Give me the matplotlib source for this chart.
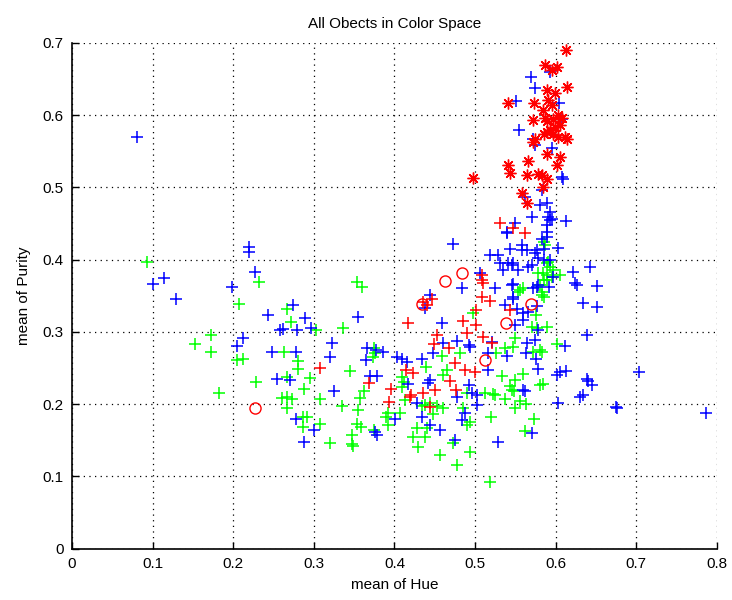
"""
plot.py
scatter of all objects in (hue, purity) color space
"""

import matplotlib
matplotlib.use('Agg')
import matplotlib.pyplot as plt

## data : mean of hue / mean of purity per object group
BLUE_HUE = [0.081, 0.220, 0.220, 0.100, 0.1145, 0.129, 0.1985, 0.2267, 0.205, 0.212,
            0.2746, 0.2436, 0.289, 0.3545, 0.258, 0.262, 0.2795, 0.296, 0.2477, 0.278,
            0.323, 0.320, 0.3656, 0.377, 0.3644, 0.370, 0.378, 0.254, 0.270, 0.325,
            0.2775, 0.300, 0.288, 0.376, 0.378, 0.386, 0.4008, 0.403, 0.409, 0.415,
            0.417, 0.434, 0.4587, 0.46, 0.477, 0.4938, 0.493, 0.5165, 0.4483, 0.5165,
            0.444, 0.442, 0.493, 0.477, 0.496, 0.502, 0.502, 0.4277, 0.434, 0.444,
            0.4566, 0.4835, 0.4876, 0.4752, 0.529, 0.537, 0.5517, 0.560, 0.566, 0.5765,
            0.634, 0.651, 0.56, 0.5496, 0.5786, 0.6394, 0.5207, 0.564, 0.5744, 0.6117,
            0.5393, 0.5633, 0.5757, 0.5786, 0.601, 0.6055, 0.613, 0.6386, 0.6448, 0.630,
            0.6336, 0.675, 0.6766, 0.6034, 0.559, 0.562, 0.5703, 0.4723, 0.540, 0.5827,
            0.589, 0.6034, 0.5186, 0.529, 0.5744, 0.531, 0.5413, 0.5475, 0.535, 0.5537,
            0.566, 0.597, 0.622, 0.624, 0.4835, 0.506, 0.5248, 0.5467, 0.5724, 0.5786,
            0.5467, 0.444, 0.438, 0.6096, 0.5827, 0.562, 0.5806, 0.589, 0.593, 0.591,
            0.5955, 0.593, 0.5703, 0.613, 0.5496, 0.5393, 0.589, 0.589, 0.5434, 0.558,
            0.558, 0.564, 0.5765, 0.585, 0.5455, 0.5703, 0.5786, 0.585, 0.593, 0.626,
            0.651, 0.642, 0.592, 0.5765, 0.5455, 0.5475, 0.7035, 0.7866, 0.6406, 0.569,
            0.5744, 0.551, 0.6046, 0.554, 0.6075, 0.5724, 0.5744, 0.595, 0.593, 0.6075]
BLUE_PUR = [0.570, 0.418, 0.411, 0.366, 0.374, 0.346, 0.362, 0.383, 0.280, 0.291,
            0.337, 0.323, 0.3185, 0.320, 0.302, 0.304, 0.302, 0.305, 0.2715, 0.272,
            0.284, 0.2645, 0.278, 0.2747, 0.261, 0.239, 0.239, 0.234, 0.233, 0.218,
            0.180, 0.164, 0.148, 0.1617, 0.157, 0.2723, 0.180, 0.2655, 0.263, 0.2585,
            0.2277, 0.263, 0.3125, 0.285, 0.2876, 0.279, 0.2816, 0.270, 0.270, 0.247,
            0.233, 0.2286, 0.2263, 0.2093, 0.2157, 0.2125, 0.1986, 0.2018, 0.1816, 0.1707,
            0.164, 0.178, 0.187, 0.150, 0.148, 0.337, 0.332, 0.3254, 0.3277, 0.3355,
            0.340, 0.3346, 0.316, 0.309, 0.302, 0.2955, 0.286, 0.284, 0.2885, 0.280,
            0.2664, 0.271, 0.263, 0.248, 0.240, 0.2447, 0.246, 0.234, 0.2263, 0.2093,
            0.2125, 0.1963, 0.194, 0.201, 0.220, 0.218, 0.1595, 0.4213, 0.437, 0.429,
            0.4314, 0.4153, 0.406, 0.406, 0.409, 0.3946, 0.3946, 0.3946, 0.386, 0.385,
            0.390, 0.376, 0.383, 0.368, 0.360, 0.381, 0.360, 0.366, 0.360, 0.3646,
            0.346, 0.3508, 0.3324, 0.512, 0.496, 0.4867, 0.475, 0.4776, 0.466, 0.459,
            0.4568, 0.4545, 0.459, 0.4535, 0.450, 0.438, 0.4476, 0.438, 0.414, 0.420,
            0.413, 0.413, 0.413, 0.415, 0.392, 0.392, 0.4015, 0.399, 0.399, 0.3646,
            0.363, 0.390, 0.3623, 0.3623, 0.3646, 0.348, 0.244, 0.188, 0.232, 0.652,
            0.638, 0.6195, 0.6167, 0.579, 0.595, 0.5675, 0.558, 0.555, 0.660, 0.5145]

GREEN_HUE = [0.0927, 0.207, 0.232, 0.1725, 0.153, 0.1725, 0.205, 0.212, 0.182, 0.228,
             0.267, 0.2713, 0.3027, 0.3366, 0.2634, 0.280, 0.280, 0.267, 0.2953, 0.2878,
             0.260, 0.2664, 0.2726, 0.267, 0.307, 0.345, 0.3354, 0.357, 0.362, 0.355,
             0.287, 0.292, 0.286, 0.307, 0.320, 0.353, 0.359, 0.347, 0.347, 0.349,
             0.354, 0.3594, 0.3747, 0.376, 0.373, 0.3925, 0.3896, 0.407, 0.409, 0.412,
             0.439, 0.526, 0.4814, 0.4587, 0.465, 0.4607, 0.409, 0.4897, 0.5124, 0.5248,
             0.4855, 0.413, 0.434, 0.438, 0.444, 0.4525, 0.448, 0.4607, 0.392, 0.440,
             0.4897, 0.4938, 0.4277, 0.4235, 0.438, 0.4296, 0.374, 0.472, 0.4938, 0.4566,
             0.477, 0.5186, 0.5195, 0.5757, 0.570, 0.5765, 0.589, 0.5496, 0.601, 0.537,
             0.5475, 0.5724, 0.5806, 0.5828, 0.533, 0.56, 0.5496, 0.5434, 0.5455, 0.5484,
             0.5806, 0.584, 0.5227, 0.537, 0.5558, 0.5633, 0.5496, 0.5732, 0.562, 0.498,
             0.5868, 0.591, 0.593, 0.5786, 0.5848, 0.589, 0.6055, 0.5558, 0.560, 0.5827,
             0.585, 0.585, 0.589, 0.597, 0.595, 0.585, 0.589, 0.5806, 0.5827, 0.5537]
GREEN_PUR = [0.397, 0.339, 0.369, 0.295, 0.283, 0.2715, 0.261, 0.263, 0.216, 0.230,
             0.331, 0.314, 0.302, 0.3047, 0.2715, 0.2595, 0.248, 0.2378, 0.2355, 0.2203,
             0.208, 0.210, 0.2065, 0.194, 0.2065, 0.246, 0.197, 0.208, 0.218, 0.1917,
             0.1825, 0.1816, 0.1686, 0.1724, 0.1465, 0.1724, 0.168, 0.157, 0.1447, 0.142,
             0.369, 0.3614, 0.277, 0.271, 0.2655, 0.188, 0.1825, 0.188, 0.238, 0.231,
             0.2516, 0.270, 0.270, 0.2664, 0.247, 0.240, 0.224, 0.2148, 0.2157, 0.2125,
             0.194, 0.2055, 0.197, 0.1986, 0.2018, 0.197, 0.186, 0.194, 0.1707, 0.1664,
             0.171, 0.1755, 0.1664, 0.155, 0.154, 0.141, 0.164, 0.1456, 0.134, 0.1295,
             0.1156, 0.0925, 0.1825, 0.323, 0.307, 0.3047, 0.306, 0.291, 0.283, 0.277,
             0.2793, 0.2723, 0.2747, 0.2723, 0.2387, 0.2415, 0.233, 0.225, 0.220, 0.218,
             0.2263, 0.2277, 0.2138, 0.2065, 0.2046, 0.200, 0.194, 0.180, 0.163, 0.3254,
             0.420, 0.397, 0.390, 0.381, 0.381, 0.378, 0.378, 0.3577, 0.360, 0.3553,
             0.348, 0.4245, 0.3946, 0.385, 0.376, 0.3715, 0.3715, 0.3646, 0.3508, 0.3553]

RED_HUE = [0.3077, 0.369, 0.4173, 0.3958, 0.3937, 0.4144, 0.4235, 0.4206, 0.436, 0.4847,
           0.501, 0.4525, 0.449, 0.4897, 0.5095, 0.5207, 0.468, 0.4752, 0.4876, 0.500,
           0.469, 0.4504, 0.4764, 0.4194, 0.444, 0.5434, 0.562, 0.5083, 0.5083, 0.510,
           0.5083, 0.5186, 0.4463, 0.436, 0.440, 0.501, 0.531, 0.5475]
RED_PUR = [0.2494, 0.2287, 0.3125, 0.2203, 0.203, 0.247, 0.2425, 0.2125, 0.2157, 0.315,
           0.309, 0.2955, 0.283, 0.298, 0.293, 0.2848, 0.277, 0.2563, 0.247, 0.2445,
           0.232, 0.2194, 0.2194, 0.210, 0.1954, 0.330, 0.437, 0.3715, 0.378, 0.367,
           0.348, 0.343, 0.345, 0.3415, 0.337, 0.330, 0.450, 0.443]

STAR_HUE = [0.613, 0.5868, 0.595, 0.601, 0.6137, 0.589, 0.599, 0.5413, 0.573, 0.591,
            0.595, 0.584, 0.5724, 0.5868, 0.589, 0.597, 0.6034, 0.6075, 0.599, 0.6055,
            0.593, 0.585, 0.589, 0.597, 0.6034, 0.6117, 0.6137, 0.5744, 0.5724, 0.589,
            0.6055, 0.601, 0.566, 0.5413, 0.5434, 0.564, 0.5786, 0.5827, 0.589, 0.584,
            0.558, 0.564, 0.4975]
STAR_PUR = [0.6906, 0.669, 0.662, 0.6665, 0.639, 0.635, 0.630, 0.6167, 0.6167, 0.6205,
            0.6135, 0.6067, 0.593, 0.5965, 0.592, 0.594, 0.600, 0.5965, 0.5835, 0.586,
            0.579, 0.5744, 0.5766, 0.5744, 0.570, 0.570, 0.5675, 0.5675, 0.563, 0.5467,
            0.542, 0.5306, 0.536, 0.5306, 0.520, 0.5167, 0.518, 0.5167, 0.512, 0.5006,
            0.492, 0.4776, 0.513]

CIRCLE_HUE = [0.2267, 0.4628, 0.4835, 0.434, 0.512, 0.5385, 0.569]
CIRCLE_PUR = [0.195, 0.3705, 0.381, 0.339, 0.261, 0.3125, 0.338]

X_TICKS = [0, 0.1, 0.2, 0.3, 0.4, 0.5, 0.6, 0.7, 0.8]
X_LABELS = ['0', '0.1', '0.2', '0.3', '0.4', '0.5', '0.6', '0.7', '0.8']
Y_TICKS = [0, 0.1, 0.2, 0.3, 0.4, 0.5, 0.6, 0.7]
Y_LABELS = ['0', '0.1', '0.2', '0.3', '0.4', '0.5', '0.6', '0.7']


def plot_color_space():
    '''
    plot all objects
    '''
    plt.rcParams['font.family'] = ['Liberation Sans', 'DejaVu Sans']

    fig = plt.figure(figsize=(7.32, 6.0), dpi=100)
    ax = fig.add_axes([0.0984, 0.0857, 0.881, 0.843])

    ax.plot(GREEN_HUE, GREEN_PUR, '+', color=(0, 1, 0), markersize=8.5, mew=1.1)
    ax.plot(BLUE_HUE, BLUE_PUR, '+', color=(0, 0, 1), markersize=8.5, mew=1.1)
    ax.plot(RED_HUE, RED_PUR, '+', color=(1, 0, 0), markersize=8.5, mew=1.1)
    ax.plot(STAR_HUE, STAR_PUR, ls='none', marker=(8, 2, 0), color=(1, 0, 0),
            markersize=8.5, mew=1.0)
    ax.plot(CIRCLE_HUE, CIRCLE_PUR, 'o', mfc='none', mec=(1, 0, 0),
            markersize=8, mew=1.0)

    ax.set_xlim(0, 0.8)
    ax.set_ylim(0, 0.7)
    ax.set_xticks(X_TICKS)
    ax.set_xticklabels(X_LABELS)
    ax.set_yticks(Y_TICKS)
    ax.set_yticklabels(Y_LABELS)
    ax.tick_params(direction='in', length=5, width=1, labelsize=11, pad=6)

    ax.spines['top'].set_visible(False)
    ax.spines['right'].set_visible(False)
    ax.spines['left'].set_linewidth(1.2)
    ax.spines['bottom'].set_linewidth(1.2)

    ax.grid(True, color='black', linestyle=(0, (1, 3.5)), linewidth=0.9)
    ax.set_axisbelow(True)

    ax.set_title('All Obects in Color Space', fontsize=11, pad=11)
    ax.set_xlabel('mean of Hue', fontsize=11, labelpad=5)
    ax.set_ylabel('mean of Purity', fontsize=11, labelpad=8)

    fig.savefig('out.png', dpi=100)


if __name__ == '__main__':
    plot_color_space()
